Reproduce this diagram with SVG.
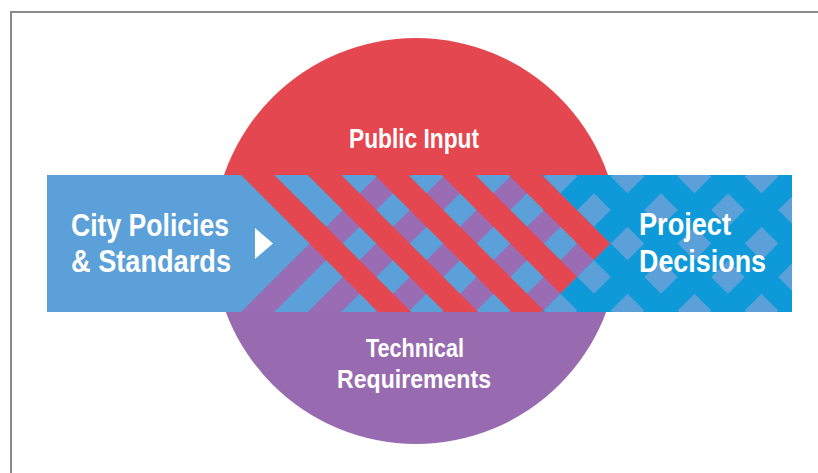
<svg xmlns="http://www.w3.org/2000/svg" xmlns:xlink="http://www.w3.org/1999/xlink" width="818" height="473" viewBox="0 0 818 473">
<style>
.lbl{font-family:"Liberation Sans Narrow","Liberation Sans",Arial,sans-serif;font-weight:bold;fill:#ffffff}
.frame{stroke:#8a8a8a;stroke-width:2;fill:none}
.hatch line{stroke-width:23.69}
</style>
<defs>
<clipPath id="topHalf"><rect x="0" y="0" width="818" height="243.5"/></clipPath>
<clipPath id="bottomHalf"><rect x="0" y="243.5" width="818" height="230"/></clipPath>
<clipPath id="redClip"><polygon points="240.75,175 542.25,175 610.75,243.5 542.25,312 377.75,312"/></clipPath>
<clipPath id="purpleClip"><polygon points="377.75,175 542.25,175 610.75,243.5 542.25,312 240.75,312"/></clipPath>
<clipPath id="rightClip"><polygon points="542.25,175 792,175 792,312 542.25,312 610.75,243.5"/></clipPath>
<g id="back" class="hatch">
<line x1="175.5" y1="160" x2="345.5" y2="330"/>
<line x1="242.5" y1="160" x2="412.5" y2="330"/>
<line x1="309.5" y1="160" x2="479.5" y2="330"/>
<line x1="376.5" y1="160" x2="546.5" y2="330"/>
<line x1="443.5" y1="160" x2="613.5" y2="330"/>
<line x1="510.5" y1="160" x2="680.5" y2="330"/>
<line x1="577.5" y1="160" x2="747.5" y2="330"/>
<line x1="644.5" y1="160" x2="814.5" y2="330"/>
<line x1="711.5" y1="160" x2="881.5" y2="330"/>
<line x1="778.5" y1="160" x2="948.5" y2="330"/>
<line x1="845.5" y1="160" x2="1015.5" y2="330"/>
</g>
<g id="fwd" class="hatch">
<line x1="208.5" y1="160" x2="38.5" y2="330"/>
<line x1="275.5" y1="160" x2="105.5" y2="330"/>
<line x1="342.5" y1="160" x2="172.5" y2="330"/>
<line x1="409.5" y1="160" x2="239.5" y2="330"/>
<line x1="476.5" y1="160" x2="306.5" y2="330"/>
<line x1="543.5" y1="160" x2="373.5" y2="330"/>
<line x1="610.5" y1="160" x2="440.5" y2="330"/>
<line x1="677.5" y1="160" x2="507.5" y2="330"/>
<line x1="744.5" y1="160" x2="574.5" y2="330"/>
<line x1="811.5" y1="160" x2="641.5" y2="330"/>
<line x1="878.5" y1="160" x2="708.5" y2="330"/>
<line x1="945.5" y1="160" x2="775.5" y2="330"/>
</g>
</defs>
<rect x="0" y="0" width="818" height="473" fill="#ffffff"/>
<path class="frame" d="M11,473 V12 H818"/>

<g id="public-input">
<circle cx="416" cy="241" r="203" fill="#e4474f" clip-path="url(#topHalf)"/>
<text class="lbl" x="414" y="148" font-size="28" text-anchor="middle" textLength="130" lengthAdjust="spacingAndGlyphs">Public Input</text>
</g>
<g id="technical-requirements">
<circle cx="416" cy="241" r="203" fill="#986bb1" clip-path="url(#bottomHalf)"/>
<text class="lbl" x="415" y="357" font-size="26" text-anchor="middle" textLength="98" lengthAdjust="spacingAndGlyphs">Technical</text>
<text class="lbl" x="414" y="388" font-size="26" text-anchor="middle" textLength="154" lengthAdjust="spacingAndGlyphs">Requirements</text>
</g>

<g id="weave">
<rect x="240" y="175" width="372" height="137" fill="#5ba0d8"/>
<use xlink:href="#fwd" stroke="#9a6cb3" clip-path="url(#purpleClip)"/>
<use xlink:href="#back" stroke="#e4474f" clip-path="url(#redClip)"/>
</g>

<g id="city-policies">
<polygon points="47,175 240.75,175 309.25,243.5 240.75,312 47,312" fill="#5ba0d8"/>
<text class="lbl" x="71" y="236" font-size="32" textLength="158" lengthAdjust="spacingAndGlyphs">City Policies</text>
<text class="lbl" x="71" y="272" font-size="32" textLength="160" lengthAdjust="spacingAndGlyphs">&amp; Standards</text>
</g>

<g id="project-decisions">
<polygon points="542.25,175 792,175 792,312 542.25,312 610.75,243.5" fill="#5ba0d8"/>
<g clip-path="url(#rightClip)">
<use xlink:href="#fwd" stroke="#0e9ad9"/>
<use xlink:href="#back" stroke="#0e9ad9"/>
</g>
<text class="lbl" x="639" y="235" font-size="32" textLength="92" lengthAdjust="spacingAndGlyphs">Project</text>
<text class="lbl" x="639" y="272" font-size="32" textLength="127" lengthAdjust="spacingAndGlyphs">Decisions</text>
</g>

<g id="connectors">
<polygon points="255,228 273,243.5 255,259" fill="#ffffff"/>
</g>
</svg>
